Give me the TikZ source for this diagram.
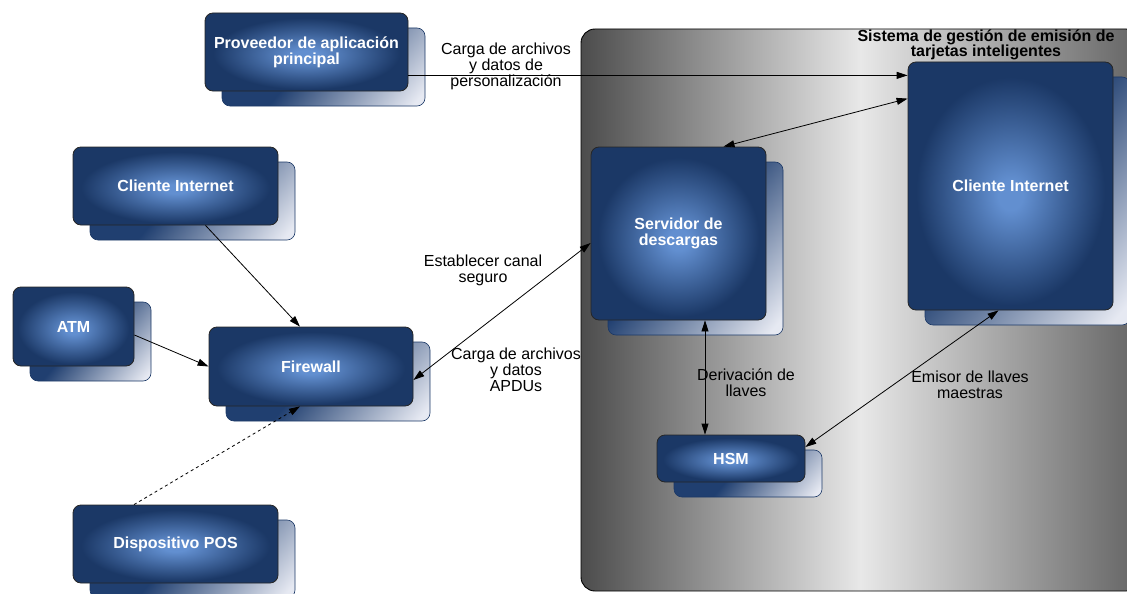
\documentclass[tikz,border=0pt]{standalone}
\usepackage{fontspec}
\setmainfont{Liberation Sans}
\usetikzlibrary{arrows.meta,calc}
\definecolor{glowc}{HTML}{628FD0}
\definecolor{edgec}{HTML}{1B3866}
\definecolor{shdark}{HTML}{203F70}
\definecolor{shlight}{HTML}{E6E9F2}
\definecolor{cdark}{HTML}{4C4C4C}
\definecolor{clight}{HTML}{E8E8E8}
\definecolor{cright}{HTML}{646464}
\pgfdeclareradialshading{glow}{\pgfpoint{0bp}{-2bp}}{color(0bp)=(glowc); color(3bp)=(glowc); color(23bp)=(edgec); color(50bp)=(edgec)}
\pgfdeclarehorizontalshading{shadowgrad}{100bp}{color(0bp)=(shdark); color(44bp)=(shdark); color(82bp)=(shlight); color(100bp)=(shlight)}
\pgfdeclarehorizontalshading{contgrad}{100bp}{color(0bp)=(cdark); color(25bp)=(cdark); color(50bp)=(clight); color(75bp)=(cright); color(100bp)=(cright)}
\tikzset{
  frontbox/.style={rectangle, rounded corners=8pt, draw=black!85, line width=0.8pt, shading=glow, text=white, font=\bfseries\fontsize{16}{16}\selectfont, align=center, inner sep=0pt},
  shadowbox/.style={rectangle, rounded corners=8pt, draw=edgec, line width=0.6pt, shading=shadowgrad, shading angle=-40, inner sep=0pt},
  conn/.style={line width=0.8pt, -{Triangle[length=11pt,width=7pt]}},
  biconn/.style={line width=0.8pt, {Triangle[length=11pt,width=7pt]}-{Triangle[length=11pt,width=7pt]}},
  lbl/.style={font=\fontsize{16}{16}\selectfont, align=center, inner sep=0pt},
  ttl/.style={font=\bfseries\fontsize{16}{15}\selectfont, align=center, inner sep=0pt}
}
\begin{document}
\begin{tikzpicture}[x=1pt,y=-1pt]
\clip (0,0) rectangle (1127,594);
% container
\path[draw=black, line width=0.9pt, shading=contgrad, rounded corners=14pt] (581,29) rectangle (1140,591);
\node[ttl] (title) at (986,45) {Sistema de gestión de emisión de\\tarjetas inteligentes};
% shadows
\node[shadowbox, minimum width=203pt, minimum height=78pt] (provS) at (323.5,67) {};
\node[shadowbox, minimum width=205pt, minimum height=78pt] (cli1S) at (192.5,201) {};
\node[shadowbox, minimum width=121pt, minimum height=79pt] (atmS) at (90.5,341.5) {};
\node[shadowbox, minimum width=204pt, minimum height=79pt] (fwS) at (328,381.5) {};
\node[shadowbox, minimum width=205pt, minimum height=78pt] (posS) at (192.5,559) {};
\node[shadowbox, minimum width=175pt, minimum height=173pt] (servS) at (695.5,248.5) {};
\node[shadowbox, minimum width=205pt, minimum height=248pt] (cli2S) at (1027.5,201) {};
\node[shadowbox, minimum width=148pt, minimum height=47pt] (hsmS) at (748,473.5) {};
% front boxes
\node[frontbox, minimum width=203pt, minimum height=78pt] (prov) at (306.5,52) {Proveedor de aplicación\\principal};
\node[frontbox, minimum width=205pt, minimum height=78pt] (cli1) at (175.5,186) {Cliente Internet};
\node[frontbox, minimum width=121pt, minimum height=79pt] (atm) at (73.5,326.5) {ATM};
\node[frontbox, minimum width=204pt, minimum height=79pt] (fw) at (311,366.5) {Firewall};
\node[frontbox, minimum width=205pt, minimum height=78pt] (pos) at (175.5,544) {Dispositivo POS};
\node[frontbox, minimum width=175pt, minimum height=173pt] (serv) at (678.5,233.5) {Servidor de\\descargas};
\node[frontbox, minimum width=205pt, minimum height=248pt] (cli2) at (1010.5,186) {Cliente Internet};
\node[frontbox, minimum width=148pt, minimum height=47pt] (hsm) at (731,458.5) {HSM};
% connectors
\coordinate (p1) at ($(prov.south east)+(0,-16)$);
\draw[conn] (p1) -- (p1 -| cli2.west);
\draw[biconn] ($(serv.north)+(45,0)$) -- ($(cli2.north west)+(0,37)$);
\draw[biconn] ($(fw.east)+(0,13.5)$) -- ($(serv.west)+(0,9.5)$);
\coordinate (v) at (705,0);
\draw[biconn] (v |- serv.south) -- (v |- hsm.north);
\draw[biconn] ($(hsm.east)+(0,-11.5)$) -- ($(cli2.south)+(-12,0)$);
\draw[conn] ($(cli1.south)+(30,0)$) -- ($(fw.north)+(-11,0)$);
\draw[conn] ($(atm.east)+(0,8.5)$) -- (fw.west);
\draw[conn, dashed] ($(pos.north)+(-41.5,0)$) -- ($(fw.south)+(-11,0)$);
% labels
\node[lbl] (l1) at (506,66) {Carga de archivos\\y datos de\\personalización};
\node[lbl] (l2) at (483,270) {Establecer canal\\seguro};
\node[lbl] (l3) at (516,370) {Carga de archivos\\y datos\\APDUs};
\node[lbl] (l4) at (746,383) {Derivación de\\llaves};
\node[lbl] (l5) at (970,385) {Emisor de llaves\\maestras};
\end{tikzpicture}
\end{document}
